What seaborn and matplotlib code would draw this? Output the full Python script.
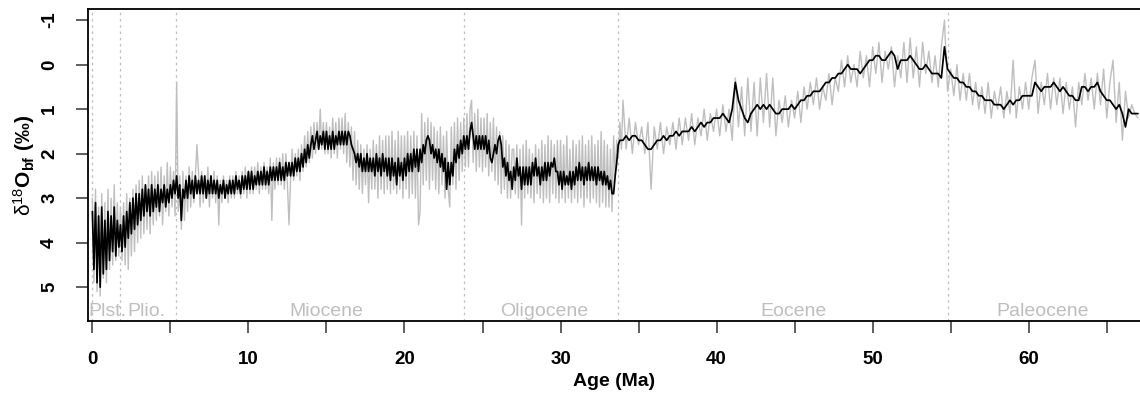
import numpy as np
import pandas as pd
import matplotlib
matplotlib.use("Agg")
import matplotlib.pyplot as plt
import seaborn as sns

# ---------------- data ----------------
# high-resolution (grey) record, 0.0-33.9 Ma at 0.1 Ma steps
grey_young = [
    3.0, 4.9, 2.8, 5.1, 3.2, 5.2, 2.9, 4.8, 3.1, 4.9,
    2.8, 4.6, 3.0, 4.5, 2.7, 4.4, 3.1, 4.3, 3.2, 4.4,
    3.1, 4.5, 2.9, 4.6, 3.0, 4.3, 2.8, 4.2, 2.7, 4.0,
    2.6, 3.9, 2.5, 3.8, 2.7, 3.7, 2.5, 3.8, 2.4, 3.6,
    2.5, 3.5, 2.4, 3.4, 2.3, 3.6, 2.5, 3.3, 2.2, 3.4,
    2.3, 3.2, 2.4, 3.4, 0.4, 3.3, 2.5, 3.7, 2.4, 3.5,
    2.5, 3.3, 2.3, 3.2, 2.4, 3.1, 2.5, 1.8, 2.4, 3.2,
    2.4, 3.1, 2.5, 3.0, 2.3, 3.2, 2.5, 3.0, 2.4, 3.1,
    2.5, 3.6, 2.6, 3.1, 2.5, 3.0, 2.6, 3.1, 2.5, 3.0,
    2.5, 3.0, 2.4, 2.9, 2.5, 3.0, 2.4, 2.9, 2.3, 3.0,
    2.4, 2.9, 2.3, 2.9, 2.3, 2.8, 2.2, 2.9, 2.3, 2.8,
    2.2, 2.8, 2.3, 2.9, 2.1, 3.5, 2.2, 2.8, 2.1, 2.7,
    2.1, 2.7, 2.0, 2.8, 2.0, 2.7, 3.6, 2.6, 1.9, 2.6,
    2.0, 2.5, 1.9, 2.6, 1.8, 2.4, 1.6, 2.3, 1.5, 2.2,
    1.4, 2.1, 1.3, 2.0, 1.3, 1.9, 1.0, 1.9, 1.3, 2.0,
    1.3, 2.0, 1.4, 2.1, 1.2, 2.0, 1.3, 2.1, 1.2, 1.9,
    1.2, 2.0, 1.1, 2.2, 1.3, 2.3, 1.4, 2.6, 1.5, 2.7,
    1.7, 2.8, 1.8, 2.9, 1.9, 2.7, 1.8, 3.1, 1.9, 2.8,
    1.7, 2.8, 1.8, 3.0, 1.6, 2.8, 1.7, 2.9, 1.6, 2.8,
    1.6, 2.9, 1.5, 2.8, 1.7, 2.9, 1.5, 2.8, 1.6, 3.0,
    1.6, 2.8, 1.5, 3.0, 1.6, 2.9, 1.5, 3.0, 1.6, 3.6,
    3.3, 1.1, 2.7, 1.3, 2.6, 1.2, 2.8, 1.3, 2.6, 1.4,
    2.8, 1.5, 2.9, 1.4, 2.7, 1.6, 3.0, 1.5, 2.8, 3.2,
    1.4, 2.7, 1.3, 2.8, 1.2, 2.6, 1.3, 2.4, 1.2, 2.3,
    1.1, 2.3, 1.0, 0.8, 2.2, 1.1, 2.4, 1.0, 2.3, 1.2,
    2.4, 1.2, 2.3, 1.1, 2.5, 1.3, 2.4, 1.2, 2.6, 1.4,
    2.7, 1.5, 2.9, 1.6, 2.8, 1.7, 3.0, 1.8, 3.0, 1.9,
    1.9, 2.9, 1.8, 3.0, 1.9, 3.6, 1.8, 3.0, 1.7, 2.9,
    1.9, 3.0, 2.0, 3.1, 1.8, 2.9, 1.9, 3.0, 1.7, 3.1,
    1.8, 3.0, 1.6, 3.1, 1.7, 2.9, 1.8, 3.0, 1.7, 3.1,
    1.7, 3.0, 1.8, 3.1, 1.6, 3.0, 1.9, 3.1, 1.7, 3.0,
    1.8, 3.1, 1.7, 3.0, 1.6, 3.2, 1.8, 3.0, 1.7, 3.1,
    1.6, 3.0, 1.8, 3.1, 1.7, 3.2, 1.5, 3.1, 1.7, 3.2,
    1.8, 3.2, 1.9, 3.3, 1.6, 2.5, 1.7, 2.1, 1.3, 1.9,
]
# grey record, 34.0-67.0 Ma at 0.2 Ma steps
grey_old = [
    0.8, 1.9, 1.2, 2.0, 1.3, 1.8, 1.4, 2.0, 1.3, 2.8,
    1.4, 1.9, 1.3, 2.0, 1.4, 1.8, 1.3, 1.9, 1.2, 1.8,
    1.2, 1.7, 1.1, 1.8, 1.2, 1.6, 1.0, 1.7, 1.1, 1.5,
    1.0, 1.6, 0.9, 1.5, 1.0, 1.7, 0.3, 1.4, 0.5, 1.6,
    0.3, 1.5, 0.4, 1.6, 0.3, 1.3, 0.2, 1.4, 0.3, 1.6,
    0.8, 1.3, 0.7, 1.4, 0.8, 1.2, 0.6, 1.3, 0.5, 1.0,
    0.4, 0.9, 0.3, 1.0, 0.5, 0.8, 0.2, 0.9, 0.3, 0.6,
    -0.1, 0.5, -0.2, 0.4, 0.0, 0.5, -0.3, 0.3, -0.2, 0.5,
    -0.4, 0.2, -0.5, 0.4, -0.3, 0.1, -0.4, 0.5, -0.2, 0.3,
    -0.5, 0.4, -0.6, 0.3, -0.4, 0.5, -0.5, 0.2, -0.3, 0.4,
    -0.2, 0.5, -0.4, -1.0, 0.6, 0.1, 0.7, 0.0, 0.8, 0.2,
    0.8, 0.2, 0.9, 0.4, 1.0, 0.5, 1.1, 0.4, 1.2, 0.6,
    1.0, 0.5, 1.2, 0.6, 1.1, -0.1, 1.2, 0.5, 1.0, 0.4,
    1.0, 0.3, -0.1, 1.1, 0.4, 0.9, 0.2, 1.0, 0.3, 0.9,
    0.3, 1.1, 0.4, 1.0, 0.5, 1.4, 0.4, 0.9, 0.2, 0.8,
    0.3, 1.0, 0.2, 0.9, 0.1, 1.2, 0.4, -0.1, 1.3, 0.4,
    1.7, 0.6, 1.2, 0.9, 1.1, 1.2,
]
# lower-resolution (black) record, 0.0-33.9 Ma at 0.1 Ma steps
black_young = [
    3.3, 4.6, 3.1, 4.9, 3.4, 5.0, 3.2, 4.7, 3.5, 4.6,
    3.3, 4.4, 3.4, 4.2, 3.2, 4.3, 3.5, 4.1, 3.6, 4.2,
    3.4, 4.1, 3.3, 3.9, 3.1, 3.8, 3.0, 3.7, 2.9, 3.6,
    2.9, 3.5, 2.8, 3.4, 2.7, 3.3, 2.8, 3.4, 2.7, 3.3,
    2.8, 3.2, 2.7, 3.3, 2.8, 3.1, 2.7, 3.2, 2.8, 3.1,
    2.7, 3.0, 2.6, 2.9, 2.5, 3.0, 2.7, 3.5, 2.8, 3.0,
    2.6, 3.0, 2.5, 2.9, 2.6, 3.0, 2.5, 2.9, 2.6, 2.9,
    2.5, 2.9, 2.5, 3.0, 2.6, 2.9, 2.5, 2.9, 2.6, 2.9,
    2.6, 3.0, 2.7, 2.9, 2.6, 3.0, 2.7, 2.9, 2.6, 2.9,
    2.6, 2.9, 2.5, 2.8, 2.6, 2.9, 2.5, 2.8, 2.5, 2.8,
    2.4, 2.8, 2.4, 2.8, 2.5, 2.7, 2.4, 2.7, 2.4, 2.7,
    2.3, 2.7, 2.4, 2.7, 2.3, 2.6, 2.3, 2.6, 2.3, 2.6,
    2.2, 2.6, 2.3, 2.6, 2.2, 2.5, 2.2, 2.5, 2.2, 2.5,
    2.1, 2.4, 2.1, 2.4, 2.0, 2.3, 1.9, 2.2, 1.8, 2.1,
    1.8, 1.6, 1.9, 1.7, 1.5, 1.9, 1.6, 1.8, 1.5, 1.9,
    1.5, 1.9, 1.6, 1.9, 1.5, 1.9, 1.6, 1.8, 1.5, 1.8,
    1.5, 1.8, 1.5, 1.8, 1.5, 1.6, 1.8, 1.9, 2.0, 2.2,
    2.0, 2.3, 2.0, 2.4, 2.1, 2.4, 2.0, 2.4, 2.1, 2.4,
    2.1, 2.5, 2.0, 2.4, 2.1, 2.5, 2.0, 2.4, 2.1, 2.5,
    2.1, 2.6, 2.1, 2.5, 2.2, 2.7, 2.1, 2.5, 2.2, 2.6,
    2.1, 2.5, 2.0, 2.4, 2.0, 2.4, 1.9, 2.3, 1.9, 2.4,
    1.9, 2.2, 1.8, 2.0, 1.7, 1.6, 1.7, 2.0, 1.8, 2.1,
    1.9, 2.2, 1.9, 2.3, 2.0, 2.4, 2.1, 2.8, 2.2, 2.7,
    2.2, 2.5, 1.9, 2.2, 1.8, 2.1, 1.7, 2.0, 1.6, 1.9,
    1.6, 1.9, 1.5, 1.3, 1.6, 1.9, 1.6, 1.9, 1.6, 1.9,
    1.6, 1.9, 1.6, 2.0, 1.7, 2.1, 2.2, 2.0, 1.8, 2.0,
    1.7, 1.6, 1.8, 2.3, 2.1, 2.5, 2.2, 2.6, 2.4, 2.8,
    2.3, 2.6, 2.1, 2.5, 2.3, 2.8, 2.3, 2.7, 2.3, 2.7,
    2.3, 2.7, 2.2, 2.5, 2.1, 2.5, 2.3, 2.7, 2.3, 2.6,
    2.2, 2.6, 2.2, 2.5, 2.2, 2.3, 2.1, 2.4, 2.4, 2.7,
    2.4, 2.8, 2.4, 2.7, 2.5, 2.7, 2.4, 2.8, 2.4, 2.7,
    2.3, 2.6, 2.2, 2.6, 2.3, 2.7, 2.3, 2.6, 2.2, 2.6,
    2.3, 2.6, 2.3, 2.7, 2.3, 2.6, 2.4, 2.7, 2.4, 2.7,
    2.5, 2.8, 2.6, 2.9, 2.9, 2.5, 2.2, 1.8, 1.7, 1.7,
]
# black record, 34.0-67.0 Ma at 0.2 Ma steps
black_old = [
    1.7, 1.6, 1.7, 1.6, 1.6, 1.7, 1.7, 1.8, 1.9, 1.9,
    1.8, 1.7, 1.7, 1.6, 1.7, 1.6, 1.6, 1.5, 1.6, 1.5,
    1.5, 1.5, 1.4, 1.5, 1.4, 1.3, 1.4, 1.3, 1.3, 1.2,
    1.2, 1.2, 1.1, 1.2, 1.3, 1.0, 0.4, 0.8, 1.0, 1.2,
    1.3, 1.1, 1.0, 0.9, 1.0, 0.9, 1.0, 0.9, 1.0, 1.1,
    1.1, 1.0, 1.0, 1.0, 0.9, 1.0, 0.9, 0.8, 0.8, 0.7,
    0.7, 0.6, 0.6, 0.6, 0.5, 0.4, 0.4, 0.3, 0.3, 0.2,
    0.2, 0.1, 0.0, 0.1, 0.1, 0.1, 0.2, 0.1, 0.0, -0.1,
    -0.1, -0.2, -0.2, -0.1, -0.1, -0.2, -0.3, -0.2, 0.1, -0.1,
    -0.1, -0.1, -0.2, -0.1, 0.0, 0.1, 0.1, 0.0, 0.1, 0.2,
    0.2, 0.2, 0.3, -0.4, 0.1, 0.2, 0.3, 0.3, 0.4, 0.4,
    0.5, 0.5, 0.6, 0.6, 0.7, 0.7, 0.8, 0.8, 0.8, 0.9,
    0.9, 0.9, 1.0, 0.9, 0.8, 0.9, 0.8, 0.8, 0.7, 0.7,
    0.7, 0.7, 0.4, 0.5, 0.6, 0.5, 0.5, 0.5, 0.4, 0.5,
    0.6, 0.5, 0.6, 0.7, 0.7, 0.8, 0.8, 0.5, 0.5, 0.6,
    0.5, 0.5, 0.4, 0.6, 0.7, 0.8, 0.8, 0.9, 1.0, 0.9,
    1.1, 1.4, 1.0, 1.1, 1.1, 1.1,
]
ages_young = np.round(np.arange(len(grey_young)) * 0.1, 1)
ages_old = np.round(34.0 + np.arange(len(grey_old)) * 0.2, 1)

epoch_bounds = [0.0, 1.8, 5.33, 23.8, 33.7, 54.8]
epoch_names = ["Plst.", "Plio.", "Miocene", "Oligocene", "Eocene", "Paleocene"]
epoch_label_ages = [0.94, 3.48, 14.96, 28.94, 44.93, 60.87]
x_ticks = [0, 5, 10, 15, 20, 25, 30, 35, 40, 45, 50, 55, 60, 65]
x_ticklabels = ["0", "", "10", "", "20", "", "30", "", "40", "", "50", "", "60", ""]
y_ticks = [-1, 0, 1, 2, 3, 4, 5]

grey_df = pd.DataFrame({"age": np.concatenate([ages_young, ages_old]),
                        "d18O": grey_young + grey_old})
black_df = pd.DataFrame({"age": np.concatenate([ages_young, ages_old]),
                         "d18O": black_young + black_old})

# ---------------- style ----------------
sns.set_theme(style="ticks")
plt.rcParams["font.family"] = ["Liberation Sans", "DejaVu Sans"]
plt.rcParams["mathtext.fontset"] = "custom"
plt.rcParams["mathtext.rm"] = "Liberation Sans"
plt.rcParams["mathtext.bf"] = "Liberation Sans:bold"
plt.rcParams["mathtext.it"] = "Liberation Sans:italic"
plt.rcParams["text.color"] = "black"
plt.rcParams["axes.labelcolor"] = "black"
plt.rcParams["xtick.color"] = "black"
plt.rcParams["ytick.color"] = "black"

W, H = 1140, 395
fig = plt.figure(figsize=(W / 100, H / 100), dpi=100)
ax = fig.add_axes([88 / W, (H - 321) / H, (1140 - 88) / W, (321 - 9) / H])

GREY = "#BEBEBE"
sns.lineplot(data=grey_df, x="age", y="d18O", ax=ax, color=GREY, lw=1.0,
             estimator=None, sort=False)
sns.lineplot(data=black_df, x="age", y="d18O", ax=ax, color="black", lw=1.25,
             estimator=None, sort=False)

for b in epoch_bounds:
    ax.axvline(b, color=GREY, lw=0.9, linestyle=(0, (2, 3)), zorder=0)
for name, a in zip(epoch_names, epoch_label_ages):
    ax.text(a, 5.65, name, color=GREY, fontsize=14, ha="center", va="baseline")

ax.set_xlim(-0.28, 67.13)
ax.set_ylim(5.76, -1.25)
ax.set_xticks(x_ticks)
ax.set_xticklabels(x_ticklabels, fontsize=13.5, fontweight="bold")
ax.set_yticks(y_ticks)
ax.set_yticklabels([str(v) for v in y_ticks], fontsize=13.5, fontweight="bold",
                   rotation=90, va="center")
ax.tick_params(axis="both", length=8.5, width=1.1, color="#333333", pad=13)
for s in ["left", "top", "bottom"]:
    ax.spines[s].set_linewidth(1.3)
    ax.spines[s].set_color("black")
ax.spines["right"].set_visible(False)

ax.set_xlabel("Age (Ma)", fontsize=14, fontweight="bold", labelpad=4)
ax.set_ylabel(r"$\mathrm{\delta^{18}}\mathbf{O}_{\mathbf{bf}}$ (‰)", fontsize=15,
              fontweight="bold", labelpad=3)

fig.savefig("out.png", dpi=100)
